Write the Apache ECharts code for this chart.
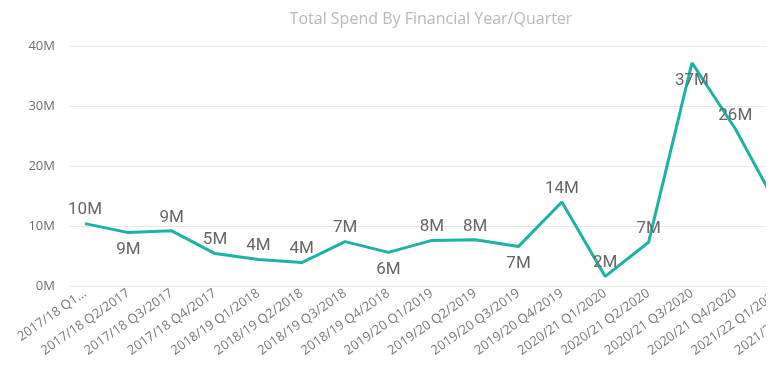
<!DOCTYPE html>
<html>
<head>
<meta charset="utf-8">
<script src="https://cdn.jsdelivr.net/npm/echarts@6/dist/echarts.min.js"></script>
<style>
html,body{margin:0;padding:0;background:#fff;}
#chart{width:778px;height:372px;}
</style>
</head>
<body>
<div id="chart"></div>
<script>
// ---- data ----
const titleText = 'Total Spend By Financial Year/Quarter';
const categories = [
  '2017/18 Q1/2017', '2017/18 Q2/2017', '2017/18 Q3/2017', '2017/18 Q4/2017',
  '2018/19 Q1/2018', '2018/19 Q2/2018', '2018/19 Q3/2018', '2018/19 Q4/2018',
  '2019/20 Q1/2019', '2019/20 Q2/2019', '2019/20 Q3/2019', '2019/20 Q4/2019',
  '2020/21 Q1/2020', '2020/21 Q2/2020', '2020/21 Q3/2020', '2020/21 Q4/2020',
  '2021/22 Q1/2021', '2021/22 Q2/2021'
];
// total spend in millions
const spend = [10.4, 8.9, 9.2, 5.4, 4.4, 3.9, 7.4, 5.6, 7.6, 7.7, 6.6, 14.0, 1.6, 7.3, 37.2, 26.2, 12.9];
const yTicks = [0, 10, 20, 30, 40];

// ---- label placement (style) ----
const labelSide = ['top','bottom','top','top','top','top','top','bottom','top','top','bottom','top','top','top','bottom','top','none'];

const chart = echarts.init(document.getElementById('chart'), null, {renderer: 'canvas'});
const lineColor = '#1cb3a6';

const seriesData = spend.map((v, i) => ({
  value: v,
  label: labelSide[i] === 'none'
    ? {show: false}
    : labelSide[i] === 'top'
      ? {show: true, position: 'top', distance: 5, offset: i === 0 ? [5, 0] : [0, 0]}
      : {show: true, position: 'bottom', distance: 9}
}));

chart.setOption({
  animation: false,
  backgroundColor: '#fff',
  title: {
    text: titleText,
    left: 426,
    textAlign: 'center',
    top: 6,
    textStyle: {fontFamily: 'Open Sans', fontWeight: 'normal', fontSize: 16, color: '#b8b8b8'}
  },
  grid: [
    {left: 69, right: 12, top: 46, bottom: 86, containLabel: false, outerBoundsMode: 'none'},
    {left: 85, width: 737, top: 46, bottom: 86, containLabel: false, outerBoundsMode: 'none'}
  ],
  xAxis: [
    {gridIndex: 0, type: 'value', min: 0, max: 1, show: false},
    {
      gridIndex: 1, type: 'category', data: categories, boundaryGap: false,
      axisLine: {show: false}, axisTick: {show: false},
      axisLabel: {
        interval: 0, rotate: 35, margin: 6, hideOverlap: false,
        fontFamily: 'Open Sans', fontSize: 13, color: '#7a7a7a',
        formatter: (v, i) => i === 0 ? v.slice(0, 10) + '...' : v
      }
    }
  ],
  yAxis: [
    {
      gridIndex: 0, type: 'value', min: yTicks[0], max: yTicks[yTicks.length - 1], interval: 10,
      axisLine: {show: false}, axisTick: {show: false},
      axisLabel: {margin: 14, fontFamily: 'Open Sans', fontSize: 13, color: '#6e6e6e', formatter: v => v + 'M'},
      splitLine: {lineStyle: {color: '#e9e9e9', width: 1}}
    },
    {gridIndex: 1, type: 'value', min: yTicks[0], max: yTicks[yTicks.length - 1], show: false, splitLine: {show: false}}
  ],
  series: [{
    type: 'line',
    xAxisIndex: 1, yAxisIndex: 1,
    data: seriesData,
    symbol: 'circle',
    symbolSize: 0.1,
    showSymbol: true,
    itemStyle: {color: lineColor},
    lineStyle: {color: lineColor, width: 3},
    labelLayout: {hideOverlap: false},
    label: {
      show: true,
      fontFamily: 'Roboto', fontSize: 17, color: '#666666',
      formatter: p => Math.round(p.value) + 'M'
    }
  }],
  graphic: [{
    type: 'rect', left: 766, top: 0, z: 100,
    shape: {width: 12, height: 372},
    style: {fill: '#ffffff'}
  }]
});
</script>
</body>
</html>
